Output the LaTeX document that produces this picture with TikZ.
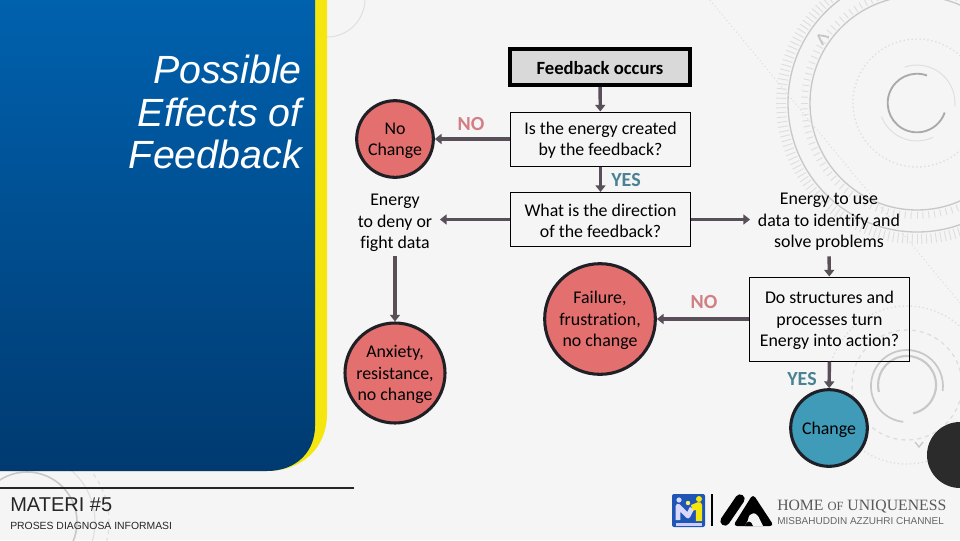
\documentclass[tikz,border=0pt]{standalone}
\usepackage{fontspec}
\setmainfont[Ligatures=NoCommon]{Carlito}
\newfontfamily\arialf{Liberation Sans}
\newfontfamily\timesf{Liberation Serif}
\usetikzlibrary{arrows.meta,shapes.geometric}
\definecolor{bg}{HTML}{F5F5F5}
\definecolor{panelTop}{HTML}{0061AE}
\definecolor{panelBot}{HTML}{003A70}
\definecolor{yel}{HTML}{F5E60F}
\definecolor{red1}{HTML}{E46F6F}
\definecolor{blue1}{HTML}{3F9BB8}
\definecolor{ringdark}{HTML}{1F1F26}
\definecolor{arrowc}{HTML}{584F58}
\definecolor{nored}{HTML}{D27E84}
\definecolor{yesblue}{HTML}{4A8294}
\definecolor{deco}{HTML}{C8C8C8}
\definecolor{decolight}{HTML}{DEDEDE}
\definecolor{logoblue}{HTML}{1F55B5}
\newcommand{\lift}{\rule{0pt}{11.4pt}}
\tikzset{
  x=0.75pt,y=-0.75pt,
  body/.style={font=\fontsize{13.4pt}{16.1pt}\selectfont,align=center,text=black,inner sep=0pt},
  qbox/.style={body,draw=black,line width=0.75pt,fill=bg,minimum width=135pt,minimum height=40.5pt,fill opacity=0,text opacity=1},
  headbox/.style={body,draw=black,line width=3pt,fill=black!15,minimum width=135pt,minimum height=27pt,font=\fontsize{14pt}{16pt}\selectfont\bfseries},
  dot/.style={body,circle,draw=ringdark,line width=2.3pt,fill=red1},
  plain/.style={body},
  arr/.style={draw=arrowc,line width=2.6pt,-{Triangle[length=5pt,width=7.5pt]}},
  tag/.style={font=\fontsize{15pt}{17pt}\selectfont\bfseries,inner sep=0pt},
  decothin/.style={draw=decolight,line width=0.7pt},
}
\begin{document}
\begin{tikzpicture}
\useasboundingbox (0,0) rectangle (960,540);
\fill[bg] (0,0) rectangle (960,540);
% background decoration, upper right
\begin{scope}
\clip (0,0) rectangle (960,540);
\draw[deco,line width=1pt] (917,103) circle[radius=107];
\draw[deco,line width=1pt] (917,103) circle[radius=129];
\draw[decolight,line width=1pt,dotted] (917,103) circle[radius=64];
\draw[line width=1.4pt,deco!85!black] (927,75.5) arc[start angle=-70,end angle=-341,radius=29.3];
\draw[decothin] (904.6,67.1) arc[start angle=-109,end angle=5,radius=38];
\draw[decothin] (881.5,116.6) arc[start angle=159,end angle=65,radius=38];
\foreach \a in {0,3,...,357}{\draw[decolight,line width=0.7pt] (917,103)++(\a:109) -- ++(\a:7);}
\foreach \a in {0,2,...,358}{\draw[decolight,line width=0.7pt] (917,103)++(\a:131) -- ++(\a:10);}
\draw[decolight,line width=0.8pt,dotted] (710,0) -- (960,303);
\draw[deco,line width=1.4pt] (818,35) -- (829,37) (818,35) -- (823,45);
% lower right
\draw[deco,line width=1.3pt] (903.2,421.8) arc[start angle=96,end angle=368,radius=36];
\draw[deco,line width=1.6pt] (878.9,392) arc[start angle=166,end angle=438,radius=29];
\draw[decolight,line width=1pt,dashed] (907,385) circle[radius=55];
\draw[decolight,line width=1pt,dotted] (907,385) circle[radius=79];
\draw[deco,line width=1pt] (915,442) -- (919,447) -- (923,442);
\fill[black!83] (960,455) circle[radius=33];
% upper left
\draw[decothin] (327,37) arc[start angle=90,end angle=0,radius=38];
% lower left
\draw[deco,line width=1.2pt] (27,522) circle[radius=50];
\draw[decolight,line width=0.8pt] (27,522) circle[radius=68];
\draw[decolight,line width=0.8pt,dashed] (27,522) circle[radius=82];
\end{scope}
% side panel
\fill[yel] (0,0) -- (327,0) -- (327,414) .. controls (327,447) and (303,471) .. (267,471) -- (0,471) -- cycle;
\shade[top color=panelTop,bottom color=panelBot] (0,0) -- (315,0) -- (315,426) .. controls (315,452) and (296,471) .. (267,471) -- (0,471) -- cycle;
\node[anchor=east,align=right,text=white,inner sep=0pt,font=\fontsize{29.5pt}{32.2pt}\selectfont\arialf\itshape] (title) at (302,112) {Possible\\Effects of\\Feedback};
\draw[black!85,line width=1.9pt] (0,488) -- (354,488);
\node[anchor=west,inner sep=0pt,text=black!85,font=\fontsize{15pt}{18pt}\selectfont\arialf] (materi) at (10,505) {MATERI \#5};
\node[anchor=west,inner sep=0pt,text=black!85,font=\fontsize{7.8pt}{10pt}\selectfont\arialf] (proses) at (10,526) {PROSES DIAGNOSA INFORMASI};
% flow nodes
\node[headbox] (occurs) at (600,67) {\rule{0pt}{12pt}Feedback occurs};
\node[qbox] (created) at (600.5,139) {\lift Is the energy created\\by the feedback?};
\node[qbox] (direction) at (600.5,219.5) {\lift What is the direction\\of the feedback?};
\node[dot,minimum size=57.5pt] (nochange) at (395,139) {\lift No\\Change};
\node[plain,minimum width=67pt,minimum height=52pt] (deny) at (395,221) {\lift Energy\\to deny or\\fight data};
\node[dot,minimum size=75pt] (anxiety) at (395,373) {\lift Anxiety,\\resistance,\\no change};
\node[dot,minimum size=83pt] (failure) at (600,319) {\lift Failure,\\frustration,\\no change};
\node[plain,minimum width=118pt,minimum height=54pt] (use) at (829,220) {\lift Energy to use\\data to identify and\\solve problems};
\node[qbox,minimum width=120.5pt,minimum height=63pt] (structures) at (829.5,319) {\lift Do structures and\\processes turn\\Energy into action?};
\node[dot,fill=blue1,minimum size=57.5pt] (change) at (829,428) {\lift Change};
% connectors
\draw[arr] (occurs) -- (created);
\draw[arr] (created) -- (direction);
\draw[arr] (created) -- (nochange);
\draw[arr] (direction) -- (deny.east|-direction);
\draw[arr] (direction) -- (use.west|-direction);
\draw[arr] (deny) -- (anxiety);
\draw[arr] (use) -- (structures);
\draw[arr] (structures) -- (failure);
\draw[arr] (structures) -- (change);
% tags
\node[tag,text=nored] (no1) at (471,124) {NO};
\node[tag,text=yesblue] (yes1) at (626,180) {YES};
\node[tag,text=nored] (no2) at (704,302) {NO};
\node[tag,text=yesblue] (yes2) at (802,379) {YES};
% logos
\fill[logoblue,rounded corners=1.5pt] (672,494) rectangle (705,527);
\draw[white!85!blue,line width=3.6pt,line join=round] (678,520) -- (678,506) -- (688,516) -- (692,508);
\draw[yel,line width=4.6pt,line join=round] (692,508) -- (699,505) -- (699,521);
\fill[white!85!blue] (679,500) circle[radius=2.6];
\fill[yel] (699,499) circle[radius=3];
\fill[yel!60!white] (688,503) circle[radius=2.2];
\fill[white!80!blue] (676,523) rectangle (702,525.5);
\draw[black,line width=0.8pt] (712,494) -- (712,526);
\draw[black,line width=7pt,line cap=round] (725,521) -- (740,499);
\fill[black,rounded corners=3pt] (753,494) -- (774,526) -- (733,526) -- cycle;
\fill[bg] (748,520) .. controls (749,511) and (757,511) .. (760,520) -- (763,526) -- (745,526) -- cycle;
\fill[black] (745,526) .. controls (747,520) and (751,520) .. (753,526) -- cycle;
\node[anchor=west,inner sep=0pt,text=black!65,font=\fontsize{11.8pt}{14pt}\selectfont\timesf] (home) at (777,507) {HOME {\fontsize{9.4pt}{14pt}\selectfont OF} UNIQUENESS};
\node[anchor=west,inner sep=0pt,text=black!60,font=\fontsize{7.5pt}{9pt}\selectfont\arialf] (channel) at (777,521.5) {MISBAHUDDIN AZZUHRI CHANNEL};
\end{tikzpicture}
\end{document}
